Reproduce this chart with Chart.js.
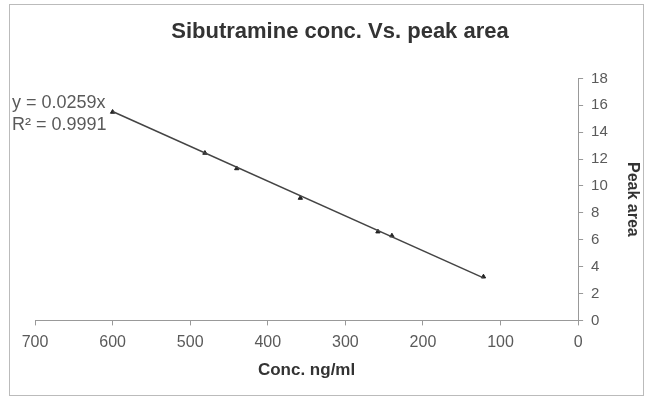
<!DOCTYPE html>
<html>
<head>
<meta charset="utf-8">
<script src="https://cdn.jsdelivr.net/npm/chart.js@4/dist/chart.umd.min.js"></script>
<style>
  html, body { margin: 0; padding: 0; background: #fff; }
  #wrap { width: 645px; height: 398px; }
</style>
</head>
<body>
<div id="wrap"><canvas id="c" width="645" height="398"></canvas></div>
<script>
// data
const concValues = [600, 481, 440, 358, 258, 240, 122];
const peakValues = [15.5, 12.45, 11.3, 9.1, 6.6, 6.3, 3.25];

// trendline end points (y = 0.0259x)
const trendX = [600, 122];
const trendY = [15.54, 3.16];

const equationLines = ['y = 0.0259x', 'R² = 0.9991'];

const FONT = '"Liberation Sans", Arial, sans-serif';

// frame + equation text
const extras = {
  id: 'extras',
  beforeDraw(chart) {
    const ctx = chart.ctx;
    ctx.save();
    ctx.fillStyle = '#fff';
    ctx.fillRect(0, 0, chart.width, chart.height);
    ctx.strokeStyle = '#bbb';
    ctx.lineWidth = 1;
    ctx.strokeRect(9.5, 4.5, 634, 391);
    ctx.restore();
  },
  afterDraw(chart) {
    const ctx = chart.ctx;
    ctx.save();
    ctx.font = '18px ' + FONT;
    ctx.fillStyle = '#5a5a5a';
    ctx.textBaseline = 'middle';
    ctx.fillText(equationLines[0], 12, 103);
    ctx.fillText(equationLines[1], 12, 125);
    ctx.restore();
  }
};

new Chart(document.getElementById('c'), {
  type: 'scatter',
  data: {
    datasets: [
      {
        label: 'Trend',
        data: trendX.map((x, i) => ({ x: x, y: trendY[i] })),
        showLine: true,
        borderColor: '#444',
        borderWidth: 1.5,
        pointRadius: 0
      },
      {
        label: 'Peak area',
        data: concValues.map((x, i) => ({ x: x, y: peakValues[i] })),
        pointStyle: 'triangle',
        pointRadius: 2.5,
        backgroundColor: '#222',
        borderColor: '#222',
        borderWidth: 1
      }
    ]
  },
  options: {
    responsive: false,
    animation: false,
    layout: { padding: { left: 35, right: 0, top: 0, bottom: 1 } },
    plugins: {
      legend: { display: false },
      tooltip: { enabled: false },
      title: {
        display: true,
        text: 'Sibutramine conc. Vs. peak area',
        color: '#333',
        font: { family: FONT, size: 22, weight: 'bold' },
        padding: { top: 19, bottom: 33 }
      }
    },
    scales: {
      x: {
        type: 'linear',
        reverse: true,
        min: 0,
        max: 700,
        ticks: {
          stepSize: 100,
          color: '#5a5a5a',
          font: { family: FONT, size: 16 },
          padding: 8,
          maxRotation: 0
        },
        grid: { display: true, drawOnChartArea: false, tickLength: 5, color: '#999' },
        border: { color: '#999' },
        title: {
          display: true,
          text: 'Conc. ng/ml',
          color: '#333',
          font: { family: FONT, size: 17, weight: 'bold' },
          padding: { top: 0, bottom: 16 }
        }
      },
      y: {
        position: 'right',
        min: 0,
        max: 18,
        ticks: {
          stepSize: 2,
          color: '#5a5a5a',
          font: { family: FONT, size: 15 },
          padding: 8
        },
        grid: { display: true, drawOnChartArea: false, tickLength: 5, color: '#999' },
        border: { color: '#999' },
        title: {
          display: true,
          text: 'Peak area',
          color: '#333',
          font: { family: FONT, size: 16, weight: 'bold' },
          padding: { top: 3, bottom: 7 }
        }
      }
    }
  },
  plugins: [extras]
});
</script>
</body>
</html>
